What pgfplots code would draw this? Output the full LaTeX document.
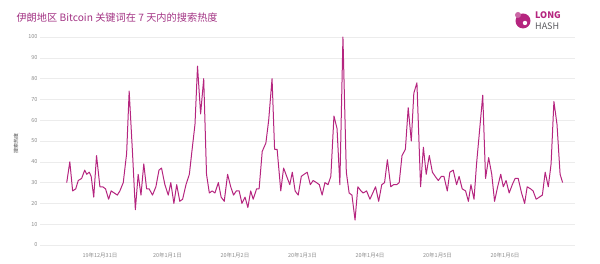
\documentclass[border=0pt]{standalone}
\usepackage{fontspec}
\setmainfont{Noto Sans CJK SC}
\newfontfamily\cjk{Noto Sans CJK SC}
\usepackage{pgfplots}
\pgfplotsset{compat=1.18}
\definecolor{trend}{RGB}{181,37,127}
\definecolor{titlecol}{RGB}{163,52,132}
\definecolor{gridcol}{RGB}{236,236,236}
\definecolor{tickcol}{RGB}{140,140,140}
\definecolor{logogray}{RGB}{90,90,95}

\begin{document}
\begin{tikzpicture}
% the axis rectangle's lower left corner sits at the origin
\useasboundingbox (-40pt,-14.84pt) rectangle (560pt,249.16pt);
% title
\node[anchor=west, text=titlecol, font=\cjk\fontsize{10.2}{12}\selectfont] at (-27pt,231.2pt) {伊朗地区 Bitcoin 关键词在 7 天内的搜索热度};
% logo
\fill[trend] (483pt,228.2pt) circle (7.5pt);
\fill[trend!70] (478pt,234.2pt) circle (3pt);
\fill[white] (485pt,226.2pt) circle (2.2pt);
\node[anchor=west, text=trend, font=\bfseries\fontsize{9}{10}\selectfont, inner sep=0] at (495pt,234.2pt) {LONG};
\node[anchor=west, text=logogray, font=\fontsize{9}{10}\selectfont, inner sep=0] at (495pt,222.7pt) {HASH};
\begin{axis}[
  scale only axis, width=535pt, height=216.3pt,
  xmin=-21.3, xmax=168.9, ymin=-2, ymax=102,
  axis line style={draw=none},
  tick style={draw=none},
  ytick={0,10,...,100},
  xtick={0,24,...,144},
  xticklabels={19年12月31日,20年1月1日,20年1月2日,20年1月3日,20年1月4日,20年1月5日,20年1月6日},
  ymajorgrids, major grid style={gridcol, line width=0.5pt},
  /pgf/number format/assume math mode=true,
  ticklabel style={text=tickcol, font=\fontsize{5.5}{6}\selectfont},
  yticklabel style={xshift=1pt},
  xticklabel style={yshift=0pt},
  ylabel={搜索热度},
  ylabel style={text=black!70, font=\fontsize{5}{6}\selectfont, at={(axis description cs:-0.034,0.49)}, anchor=south},
  clip=false,
]
\addplot[trend, line width=1pt, line join=round] table {
h v
-11.8 30
-10.7 40
-9.7 26
-8.6 27
-7.7 31
-6.5 32
-5.4 36
-4.7 34
-3.8 35
-3.1 33
-2.2 23
-1.2 43
0.0 28
1.0 28
2.0 27
3.1 22
4.0 26
5.1 25
6.2 24
7.1 26
8.3 30
9.5 44
10.4 74
11.6 44
12.6 17
13.6 34
14.6 24
15.6 39
16.6 27
17.5 27
18.7 24
19.9 28
21.0 36
21.9 37
23.1 29
24.3 24
25.2 30
26.3 20
27.3 29
28.4 21
29.4 22
30.6 29
31.8 34
32.7 45
33.8 58
34.7 86
35.8 63
36.9 80
37.9 34
38.9 25
39.9 26
40.9 25
42.1 30
43.1 23
44.2 21
45.4 34
46.5 28
47.5 24
48.5 26
49.5 26
50.5 20
51.6 23
52.6 18
53.6 26
54.5 22
55.7 27
56.6 27
57.7 45
59.0 49
60.0 60
61.2 80
62.1 46
63.0 46
64.3 26
65.3 37
66.4 33
67.5 29
68.4 35
69.4 26
70.5 24
71.6 33
72.6 34
73.7 35
74.8 29
75.8 31
77.0 30
78.0 29
79.0 24
80.0 30
81.1 29
82.1 33
83.2 62
84.3 56
85.3 29
86.4 100
87.6 35
88.6 25
89.6 24
90.7 12
91.7 28
92.8 26
93.6 25
94.8 26
96.0 22
97.0 25
98.0 28
99.1 21
100.2 29
101.2 30
102.2 41
103.4 28
104.4 29
105.5 29
106.4 30
107.4 43
108.6 46
109.6 66
110.7 50
111.6 73
112.7 78
114.0 28
115.0 47
116.0 34
117.1 43
118.2 35
119.2 33
120.3 31
121.4 33
122.3 33
123.5 26
124.4 35
125.6 36
126.8 29
127.7 33
128.8 27
130.0 26
131.0 21
131.9 29
133.0 22
133.9 39
135.1 57
136.1 72
137.1 32
138.2 42
139.3 34
140.3 21
141.4 28
142.5 34
143.4 28
144.4 31
145.5 25
146.6 29
147.6 32
148.7 32
149.9 25
151.0 20
151.9 28
153.1 27
154.0 26
155.1 22
156.2 23
157.3 24
158.3 35
159.4 28
160.4 39
161.4 69
162.5 58
163.6 34
164.5 30
};
\end{axis}
\end{tikzpicture}
\end{document}
